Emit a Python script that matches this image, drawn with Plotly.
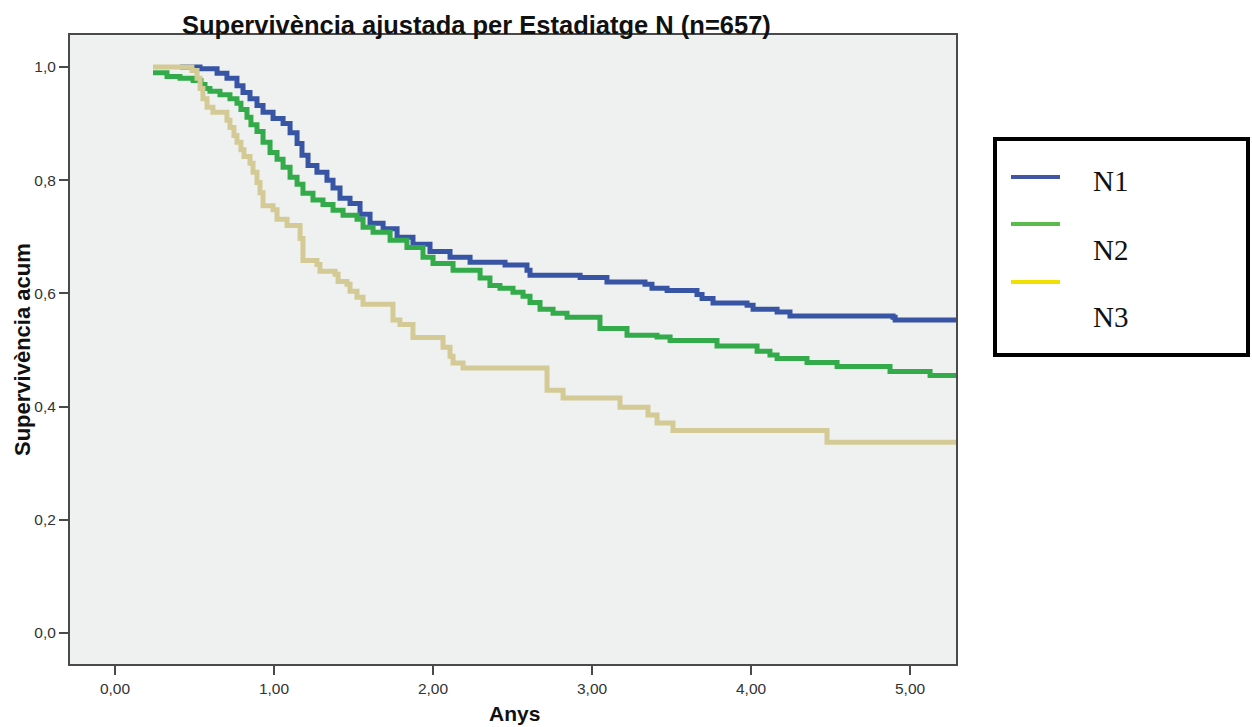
import plotly.graph_objects as go

# Adjusted survival by N stage: step points (years, cumulative survival)
n1_years = [0.409, 0.535, 0.642, 0.704, 0.767, 0.805, 0.849, 0.893, 0.931, 0.994,
            1.057, 1.101, 1.145, 1.176, 1.214, 1.270, 1.333, 1.371, 1.415, 1.478,
            1.541, 1.604, 1.686, 1.774, 1.874, 1.981, 2.107, 2.233, 2.453, 2.591,
            2.610, 2.925, 3.094, 3.333, 3.377, 3.472, 3.660, 3.692, 3.761, 3.975,
            4.013, 4.164, 4.245, 4.893, 4.906, 5.29]
n1_surv = [1.000, 0.997, 0.989, 0.980, 0.967, 0.955, 0.944, 0.932, 0.920, 0.909,
           0.900, 0.884, 0.865, 0.844, 0.826, 0.814, 0.800, 0.786, 0.768, 0.759,
           0.740, 0.724, 0.714, 0.699, 0.687, 0.674, 0.664, 0.655, 0.650, 0.641,
           0.632, 0.628, 0.620, 0.616, 0.609, 0.605, 0.598, 0.591, 0.583, 0.579,
           0.572, 0.567, 0.560, 0.558, 0.553, 0.553]

n2_years = [0.239, 0.327, 0.409, 0.491, 0.541, 0.566, 0.597, 0.660, 0.723, 0.767,
            0.792, 0.830, 0.855, 0.893, 0.931, 0.975, 1.019, 1.057, 1.101, 1.145,
            1.182, 1.245, 1.308, 1.371, 1.434, 1.522, 1.560, 1.623, 1.730, 1.836,
            1.937, 2.000, 2.126, 2.296, 2.358, 2.421, 2.503, 2.566, 2.610, 2.673,
            2.755, 2.843, 3.050, 3.220, 3.409, 3.491, 3.786, 4.038, 4.119, 4.164,
            4.352, 4.541, 4.874, 5.126, 5.29]
n2_surv = [0.990, 0.983, 0.980, 0.976, 0.969, 0.962, 0.957, 0.951, 0.944, 0.936,
           0.925, 0.911, 0.898, 0.886, 0.867, 0.849, 0.837, 0.823, 0.805, 0.793,
           0.777, 0.765, 0.757, 0.747, 0.738, 0.731, 0.717, 0.708, 0.694, 0.681,
           0.664, 0.653, 0.641, 0.627, 0.614, 0.609, 0.602, 0.595, 0.584, 0.572,
           0.565, 0.558, 0.538, 0.526, 0.523, 0.517, 0.507, 0.498, 0.491, 0.485,
           0.478, 0.471, 0.462, 0.455, 0.455]

n3_years = [0.239, 0.484, 0.516, 0.535, 0.553, 0.579, 0.616, 0.704, 0.723, 0.748,
            0.767, 0.792, 0.811, 0.849, 0.868, 0.893, 0.912, 0.931, 0.994, 1.019,
            1.082, 1.164, 1.182, 1.270, 1.289, 1.384, 1.403, 1.459, 1.478, 1.522,
            1.560, 1.748, 1.792, 1.874, 2.063, 2.107, 2.126, 2.189, 2.717, 2.818,
            3.176, 3.352, 3.409, 3.509, 4.478, 5.29]
n3_surv = [1.000, 0.994, 0.980, 0.962, 0.944, 0.929, 0.920, 0.906, 0.893, 0.879,
           0.867, 0.854, 0.842, 0.830, 0.814, 0.796, 0.778, 0.755, 0.748, 0.731,
           0.720, 0.697, 0.658, 0.651, 0.639, 0.634, 0.621, 0.616, 0.604, 0.593,
           0.581, 0.553, 0.545, 0.522, 0.505, 0.489, 0.477, 0.468, 0.429, 0.415,
           0.399, 0.385, 0.371, 0.358, 0.337, 0.337]

group_names = ["N1", "N2", "N3"]
line_colors = ["#3855A5", "#33AB4B", "#D3CA95"]
legend_colors = ["#4254A6", "#5CBB4C", "#F0E100"]

x_ticks = [0, 1, 2, 3, 4, 5]
x_tick_text = ["0,00", "1,00", "2,00", "3,00", "4,00", "5,00"]
y_ticks = [0.0, 0.2, 0.4, 0.6, 0.8, 1.0]
y_tick_text = ["0,0", "0,2", "0,4", "0,6", "0,8", "1,0"]

W, H = 1252, 727
L, R, T, B = 70, 956, 35, 664

fig = go.Figure()
for xs, ys, name, col in zip([n1_years, n2_years, n3_years],
                             [n1_surv, n2_surv, n3_surv],
                             group_names, line_colors):
    fig.add_trace(go.Scatter(x=xs, y=ys, mode="lines", name=name,
                             line=dict(color=col, width=5, shape="hv"),
                             showlegend=False))

axis_col = "#4a4a4a"
tick_font = dict(family="Liberation Sans, Arial", size=15.5, color="#333333")

fig.update_xaxes(range=[-0.283, 5.289], tickvals=x_ticks, ticktext=x_tick_text,
                 ticks="outside", ticklen=9, tickwidth=2, tickcolor=axis_col,
                 showline=True, linecolor=axis_col, linewidth=2, mirror=True,
                 showgrid=False, zeroline=False, tickfont=tick_font)
fig.update_yaxes(range=[-0.0547, 1.0565], tickvals=y_ticks, ticktext=y_tick_text,
                 ticks="outside", ticklen=9, tickwidth=2, tickcolor=axis_col,
                 showline=True, linecolor=axis_col, linewidth=2, mirror=True,
                 showgrid=False, zeroline=False, tickfont=tick_font)


def px(xp):
    return (xp - L) / (R - L)


def py(yp):
    return (B - yp) / (B - T)


annotations = [
    dict(text="<b>Supervivència ajustada per Estadiatge N (n=657)</b>",
         x=px(476), y=py(25), xref="paper", yref="paper", showarrow=False,
         xanchor="center", yanchor="middle",
         font=dict(family="Liberation Sans, Arial", size=25.5, color="#111111")),
    dict(text="<b>Anys</b>", x=px(514), y=py(713), xref="paper", yref="paper",
         showarrow=False, xanchor="center", yanchor="middle",
         font=dict(family="Liberation Sans, Arial", size=21, color="#111111")),
    dict(text="<b>Supervivència acum</b>", x=px(22), y=py(350), xref="paper",
         yref="paper", showarrow=False, textangle=-90, xanchor="center",
         yanchor="middle",
         font=dict(family="Liberation Sans, Arial", size=22, color="#111111")),
]

# legend panel drawn by hand
shapes = [dict(type="rect", xref="paper", yref="paper",
               x0=px(995), x1=px(1248), y0=py(355), y1=py(139),
               line=dict(color="#000000", width=4), fillcolor="#ffffff")]
legend_line_y = [177, 224, 282]
legend_text_y = [181, 250, 317]
for name, col, ly, ty in zip(group_names, legend_colors, legend_line_y, legend_text_y):
    shapes.append(dict(type="line", xref="paper", yref="paper",
                       x0=px(1011), x1=px(1060), y0=py(ly), y1=py(ly),
                       line=dict(color=col, width=4)))
    annotations.append(dict(text=name, x=px(1091), y=py(ty), xref="paper",
                            yref="paper", showarrow=False, xanchor="left",
                            yanchor="middle",
                            font=dict(family="Liberation Serif, Times New Roman",
                                      size=29, color="#111111")))

fig.update_layout(width=W, height=H,
                  margin=dict(l=L, r=W - R, t=T, b=H - B, pad=0),
                  paper_bgcolor="#ffffff", plot_bgcolor="#EFF1F0",
                  shapes=shapes, annotations=annotations)

fig.write_html("out.html")
